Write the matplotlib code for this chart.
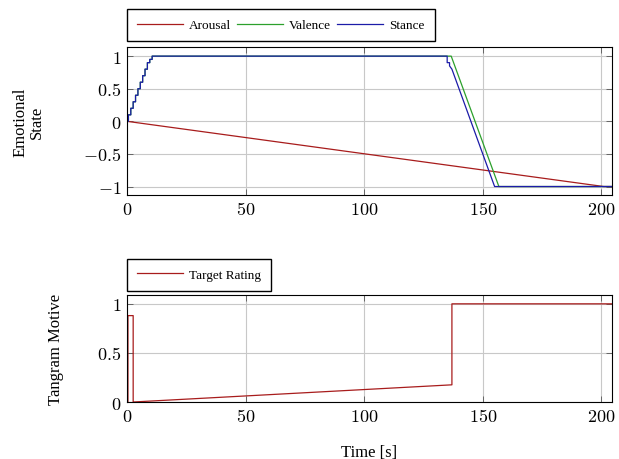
import numpy as np
import matplotlib
matplotlib.use('Agg')
from matplotlib import pyplot as plt
from matplotlib.ticker import FixedLocator, FixedFormatter

plt.rcParams['font.family'] = ['Liberation Serif', 'DejaVu Serif']
plt.rcParams['mathtext.fontset'] = 'cm'

# top panel data (time in s, state)
stance_t = [0, 0.6, 0.6, 1.6, 1.6, 2.6, 2.6, 3.6, 3.6, 4.6, 4.6, 5.6, 5.6, 6.6, 6.6,
            7.6, 7.6, 8.6, 8.6, 9.6, 9.6, 10.6, 10.6, 135, 135, 136, 136, 137, 155, 205]
stance_v = [0, 0, 0.1, 0.1, 0.2, 0.2, 0.3, 0.3, 0.4, 0.4, 0.5, 0.5, 0.6, 0.6, 0.7,
            0.7, 0.8, 0.8, 0.9, 0.9, 0.95, 0.95, 1, 1, 0.9, 0.9, 0.85, 0.8, -1, -1]
valence_t = [0, 0.6, 0.6, 1.6, 1.6, 2.6, 2.6, 3.6, 3.6, 4.6, 4.6, 5.6, 5.6, 6.6, 6.6,
             7.6, 7.6, 8.6, 8.6, 9.6, 9.6, 10.6, 10.6, 136.7, 156.8, 205]
valence_v = [0, 0, 0.1, 0.1, 0.2, 0.2, 0.3, 0.3, 0.4, 0.4, 0.5, 0.5, 0.6, 0.6, 0.7,
             0.7, 0.8, 0.8, 0.9, 0.9, 0.95, 0.95, 1, 1, -1, -1]
arousal_t = [0, 201, 205]
arousal_v = [0, -1, -1]

# bottom panel data
target_t = [0, 0.4, 0.4, 2.6, 2.6, 137, 137, 205]
target_v = [0, 0, 0.88, 0.88, 0, 0.175, 1, 1]

c_red = '#a81c1c'
c_green = '#2ca02c'
c_blue = '#1c1ca8'

fig = plt.figure(figsize=(6.19, 4.60), dpi=100)
W, H = 619, 460
ax1 = fig.add_axes([127 / W, 1 - 196 / H, 485 / W, 148 / H])
ax2 = fig.add_axes([127 / W, 1 - 403 / H, 485 / W, 107 / H])

ax1.plot(arousal_t, arousal_v, color=c_red, lw=0.9, label='Arousal')
ax1.plot(valence_t, valence_v, color=c_green, lw=0.9, label='Valence')
ax1.plot(stance_t, stance_v, color=c_blue, lw=0.9, label='Stance')
ax1.set_xlim(0, 204.5)
ax1.set_ylim(-1.13, 1.14)

ax2.plot(target_t, target_v, color=c_red, lw=0.9, label='Target Rating')
ax2.set_xlim(0, 204.5)
ax2.set_ylim(0, 1.09)

xt = [0, 50, 100, 150, 200]
for ax, yt in [(ax1, [-1, -0.5, 0, 0.5, 1]), (ax2, [0, 0.5, 1])]:
    ax.xaxis.set_major_locator(FixedLocator(xt))
    ax.xaxis.set_major_formatter(FixedFormatter([f'${v}$' for v in xt]))
    ax.yaxis.set_major_locator(FixedLocator(yt))
    ax.yaxis.set_major_formatter(FixedFormatter(
        [('$-' + f'{abs(v):g}' + '$') if v < 0 else f'${v:g}$' for v in yt]))
    ax.tick_params(direction='in', top=True, right=True, length=4, width=0.6,
                   labelsize=13, color='#555555', pad=4)
    ax.grid(True, color='#c8c8c8', lw=0.8)
    for s in ax.spines.values():
        s.set_linewidth(0.8)
    ax.set_axisbelow(True)

leg_kw = dict(loc='lower left', bbox_to_anchor=(0, 1.04), fontsize=9.5,
              fancybox=False, edgecolor='black', framealpha=1, borderaxespad=0,
              handlelength=3.5, handletextpad=0.45, columnspacing=0.45,
              borderpad=0.75)
ax1.legend(ncol=3, **leg_kw)
ax2.legend(ncol=1, **leg_kw)

ax1.set_ylabel('Emotional\nState', fontsize=12, linespacing=1.0)
ax2.set_ylabel('Tangram Motive', fontsize=12)
ax2.set_xlabel('Time [s]', fontsize=12, labelpad=14)
ax1.yaxis.set_label_coords(-0.17, 0.5)
ax2.yaxis.set_label_coords(-0.13, 0.5)

fig.savefig('out.png', dpi=100)
